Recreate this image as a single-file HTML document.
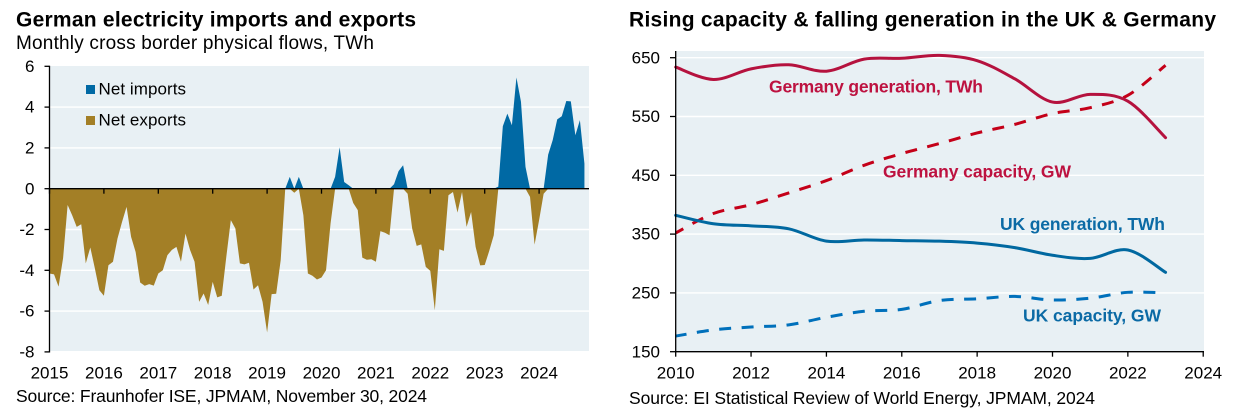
<!DOCTYPE html>
<html lang="en">
<head>
<meta charset="utf-8">
<title>German electricity and UK and Germany capacity charts</title>
<style>
html,body{margin:0;padding:0;background:#fff;width:1243px;height:416px;overflow:hidden}
svg{display:block}
text{font-family:"Liberation Sans",Arial,sans-serif;fill:#000}
.title{font-size:21px;font-weight:700}
.sub{font-size:19px}
.tick{font-size:17px}
.src{font-size:17.5px}
.lab{font-size:17.5px;font-weight:700}
</style>
</head>
<body>
<svg id="root" width="1243" height="416" viewBox="0 0 1243 416" xmlns="http://www.w3.org/2000/svg">
  <text class="title" x="16" y="26.5" textLength="400" lengthAdjust="spacing">German electricity imports and exports</text>
  <text class="sub" x="16" y="49" textLength="358" lengthAdjust="spacing">Monthly cross border physical flows, TWh</text>
  <text class="title" x="629" y="26.5" textLength="587" lengthAdjust="spacing">Rising capacity &amp; falling generation in the UK &amp; Germany</text>

  <rect x="49" y="66" width="540" height="285" fill="#e8f0f4"/>
  <rect x="676" y="51" width="528" height="300" fill="#e8f0f4"/>

  <g id="left-grid"></g>
  <g id="right-grid"></g>
  <g id="left-marks"></g>
  <g id="right-marks"></g>
  <g id="left-axes"></g>
  <g id="right-axes"></g>

  <rect x="86" y="85" width="9" height="9" fill="#0069a4"/>
  <text class="tick" x="98.5" y="94.7" textLength="87.5" lengthAdjust="spacing">Net imports</text>
  <rect x="86" y="116" width="9" height="9" fill="#a37f26"/>
  <text class="tick" x="98.5" y="125.7" textLength="87.5" lengthAdjust="spacing">Net exports</text>

  <text class="lab" x="769" y="92.7" textLength="214" lengthAdjust="spacing" style="fill:#bd1240">Germany generation, TWh</text>
  <text class="lab" x="883" y="177.7" textLength="188" lengthAdjust="spacing" style="fill:#bd1240">Germany capacity, GW</text>
  <text class="lab" x="1000" y="230" textLength="165" lengthAdjust="spacing" style="fill:#0b6aa5">UK generation, TWh</text>
  <text class="lab" x="1023" y="321.7" textLength="138" lengthAdjust="spacing" style="fill:#0b6aa5">UK capacity, GW</text>

  <text class="src" x="16" y="402" textLength="411" lengthAdjust="spacing">Source: Fraunhofer ISE, JPMAM, November 30, 2024</text>
  <text class="src" x="629" y="404" textLength="466" lengthAdjust="spacing">Source: EI Statistical Review of World Energy, JPMAM, 2024</text>
</svg>
<script>
const netExports = [
  -4.16,-4.2,-4.8,-3.4,-0.8,-1.3,-1.87,-1.74,-3.66,-2.88,-3.9,-4.98,
  -5.25,-3.75,-3.58,-2.44,-1.63,-0.89,-2.36,-3.1,-4.6,-4.76,-4.68,-4.75,
  -4.16,-4,-3.26,-3,-2.85,-3.58,-2.2,-3,-3.58,-5.55,-5.14,-5.7,
  -4.57,-5.33,-5.25,-3.34,-1.54,-1.95,-3.66,-3.71,-3.63,-4.94,-4.73,-5.55,
  -7.05,-5.17,-5.15,-3.5,0,0,-0.2,0,-1.3,-4.16,-4.27,-4.45,
  -4.35,-4,-1.7,0,0,0,0,-0.7,-1.05,-3.38,-3.48,-3.46,
  -3.58,-2.08,-2.16,-2.28,0,0,0,-0.25,-1.95,-2.8,-2.73,-3.83,
  -4.03,-5.96,-2.97,-3.05,-0.32,-0.16,-1.17,-0.16,-1.87,-1.14,-2.85,-3.76,
  -3.74,-3.05,-2.28,0,0,0,0,0,0,0,-0.4,-2.74,
  -1.54,-0.25,0,0,0,0,0,0,0,0,0
];
const netImports = [
  0,0,0,0,0,0,0,0,0,0,0,0,
  0,0,0,0,0,0,0,0,0,0,0,0,
  0,0,0,0,0,0,0,0,0,0,0,0,
  0,0,0,0,0,0,0,0,0,0,0,0,
  0,0,0,0,0,0.58,0,0.58,0,0,0,0,
  0,0,0,0.58,2.03,0.33,0.17,0,0,0,0,0,
  0,0,0,0,0.22,0.86,1.15,0,0,0,0,0,
  0,0,0,0,0,0,0,0,0,0,0,0,
  0,0,0,0.1,3.06,3.68,3.11,5.45,4.26,1.07,0,0,
  0,0,1.67,2.38,3.4,3.55,4.3,4.28,2.62,3.36,1.23
];
const leftYearLabels = [2015,2016,2017,2018,2019,2020,2021,2022,2023,2024];
const leftYTicks = [6,4,2,0,-2,-4,-6,-8];

const years = [2010,2011,2012,2013,2014,2015,2016,2017,2018,2019,2020,2021,2022,2023];
const germanyGeneration = [634,613,631,638,627,647.6,649,654,645,614,574.5,587.6,576,514];
const germanyCapacity = [352,385,400,420,441,467,487,504,522,536.6,555,565,586,637];
const ukGeneration = [382,367.6,364,359,338,340,339,338,334.7,327,314,308.7,323,285];
const ukCapacity = [176.6,187,192,195.6,208.6,218.7,222,237,240,244,238,241,251,250];
const rightXTicks = [2010,2012,2014,2016,2018,2020,2022,2024];
const rightYTicks = [650,550,450,350,250,150];

const NS = 'http://www.w3.org/2000/svg';
function xLeft(monthIndex){ return 49.5 + monthIndex * 54.4 / 12; }
function yLeft(v){ return 188.7 - v * 20.4; }
function xRight(year){ return 675.7 + (year - 2010) * 37.68; }
function yRight(v){ return 351.7 - (v - 150) * 0.588; }

function make(tag, parent, attrs){
  const el = document.createElementNS(NS, tag);
  for (const k in attrs) el.setAttribute(k, attrs[k]);
  parent.appendChild(el);
  return el;
}
const leftGrid = document.getElementById('left-grid');
const rightGrid = document.getElementById('right-grid');
const leftMarks = document.getElementById('left-marks');
const rightMarks = document.getElementById('right-marks');
const leftAxes = document.getElementById('left-axes');
const rightAxes = document.getElementById('right-axes');

/* gridlines */
leftYTicks.forEach(function(t){
  if (t === 0 || t === 6 || t === -8) return;
  const g = make('line', leftGrid, {x1:49,x2:589,y1:yLeft(t),y2:yLeft(t),stroke:'#ffffff','stroke-width':1.4});
  
  
});
rightYTicks.forEach(function(t){
  if (t === 150) return;
  const g = make('line', rightGrid, {x1:676,x2:1204,y1:yRight(t),y2:yRight(t),stroke:'#ffffff','stroke-width':1.4});
  
  
});

/* left chart areas */
function areaPath(series){
  let d = 'M' + xLeft(0).toFixed(2) + ' ' + yLeft(0).toFixed(2);
  series.forEach(function(v,i){ d += 'L' + xLeft(i).toFixed(2) + ' ' + yLeft(v).toFixed(2); });
  d += 'L' + xLeft(series.length-1).toFixed(2) + ' ' + yLeft(0).toFixed(2) + 'Z';
  return d;
}
const exportsArea = make('path', leftMarks, {d:areaPath(netExports),fill:'#a37f26'});


const importsArea = make('path', leftMarks, {d:areaPath(netImports),fill:'#0069a4'});



/* right chart lines: smoothed through annual values */
function smoothPath(series){
  const p = series.map(function(v,i){ return [xRight(years[i]), yRight(v)]; });
  let d = 'M' + p[0][0].toFixed(2) + ' ' + p[0][1].toFixed(2);
  for (let i = 0; i < p.length - 1; i++){
    const a = p[Math.max(i-1,0)], b = p[i], c = p[i+1], e = p[Math.min(i+2,p.length-1)];
    d += 'C' + (b[0]+(c[0]-a[0])/6).toFixed(2) + ' ' + (b[1]+(c[1]-a[1])/6).toFixed(2) + ' ' +
         (c[0]-(e[0]-b[0])/6).toFixed(2) + ' ' + (c[1]-(e[1]-b[1])/6).toFixed(2) + ' ' +
         c[0].toFixed(2) + ' ' + c[1].toFixed(2);
  }
  return d;
}
const ukCapLine = make('path', rightMarks, {d:smoothPath(ukCapacity),fill:'none',stroke:'#0070bb','stroke-width':3,'stroke-dasharray':'12 10.5','stroke-dashoffset':1});


const deCapLine = make('path', rightMarks, {d:smoothPath(germanyCapacity),fill:'none',stroke:'#c40018','stroke-width':3,'stroke-dasharray':'12 10.5','stroke-dashoffset':3.3});


const ukGenLine = make('path', rightMarks, {d:smoothPath(ukGeneration),fill:'none',stroke:'#0068a0','stroke-width':3,'stroke-linecap':'round'});


const deGenLine = make('path', rightMarks, {d:smoothPath(germanyGeneration),fill:'none',stroke:'#b5123e','stroke-width':3,'stroke-linecap':'round'});



/* left axes */
const lyAxis = make('line', leftAxes, {x1:49.5,x2:49.5,y1:yLeft(6)-0.6,y2:yLeft(-8)+0.6,stroke:'#000','stroke-width':1.3});


const lxAxis = make('line', leftAxes, {x1:49,x2:589,y1:yLeft(0),y2:yLeft(0),stroke:'#000','stroke-width':1.3});


leftYTicks.forEach(function(t){
  const m = make('line', leftAxes, {x1:44.5,x2:49.5,y1:yLeft(t),y2:yLeft(t),stroke:'#000','stroke-width':1.3});
  
  
  const l = make('text', leftAxes, {class:'tick',x:34.5,y:yLeft(t)+5.6,'text-anchor':'end'});
  l.textContent = String(t);
  
  
});
leftYearLabels.forEach(function(y,i){
  const x = xLeft(i*12);
  const m = make('line', leftAxes, {x1:x,x2:x,y1:yLeft(0),y2:yLeft(0)+5,stroke:'#000','stroke-width':1.3});
  
  
  const l = make('text', leftAxes, {class:'tick',x:x,y:378.3,'text-anchor':'middle'});
  l.textContent = String(y);
  
  
});

/* right axes */
const ryAxis = make('line', rightAxes, {x1:675.7,x2:675.7,y1:51,y2:yRight(150)+0.6,stroke:'#000','stroke-width':1.3});


const rxAxis = make('line', rightAxes, {x1:675,x2:1204,y1:yRight(150),y2:yRight(150),stroke:'#000','stroke-width':1.3});


rightYTicks.forEach(function(t){
  const m = make('line', rightAxes, {x1:670,x2:675.7,y1:yRight(t),y2:yRight(t),stroke:'#000','stroke-width':1.3});
  
  
  const l = make('text', rightAxes, {class:'tick',x:660,y:yRight(t)+5.6,'text-anchor':'end'});
  l.textContent = String(t);
  
  
});
rightXTicks.forEach(function(y){
  const x = xRight(y);
  const m = make('line', rightAxes, {x1:x,x2:x,y1:yRight(150),y2:yRight(150)+5,stroke:'#000','stroke-width':1.3});
  
  
  const l = make('text', rightAxes, {class:'tick',x:x,y:378.3,'text-anchor':'middle'});
  l.textContent = String(y);
  
  
});
</script>
</body>
</html>
